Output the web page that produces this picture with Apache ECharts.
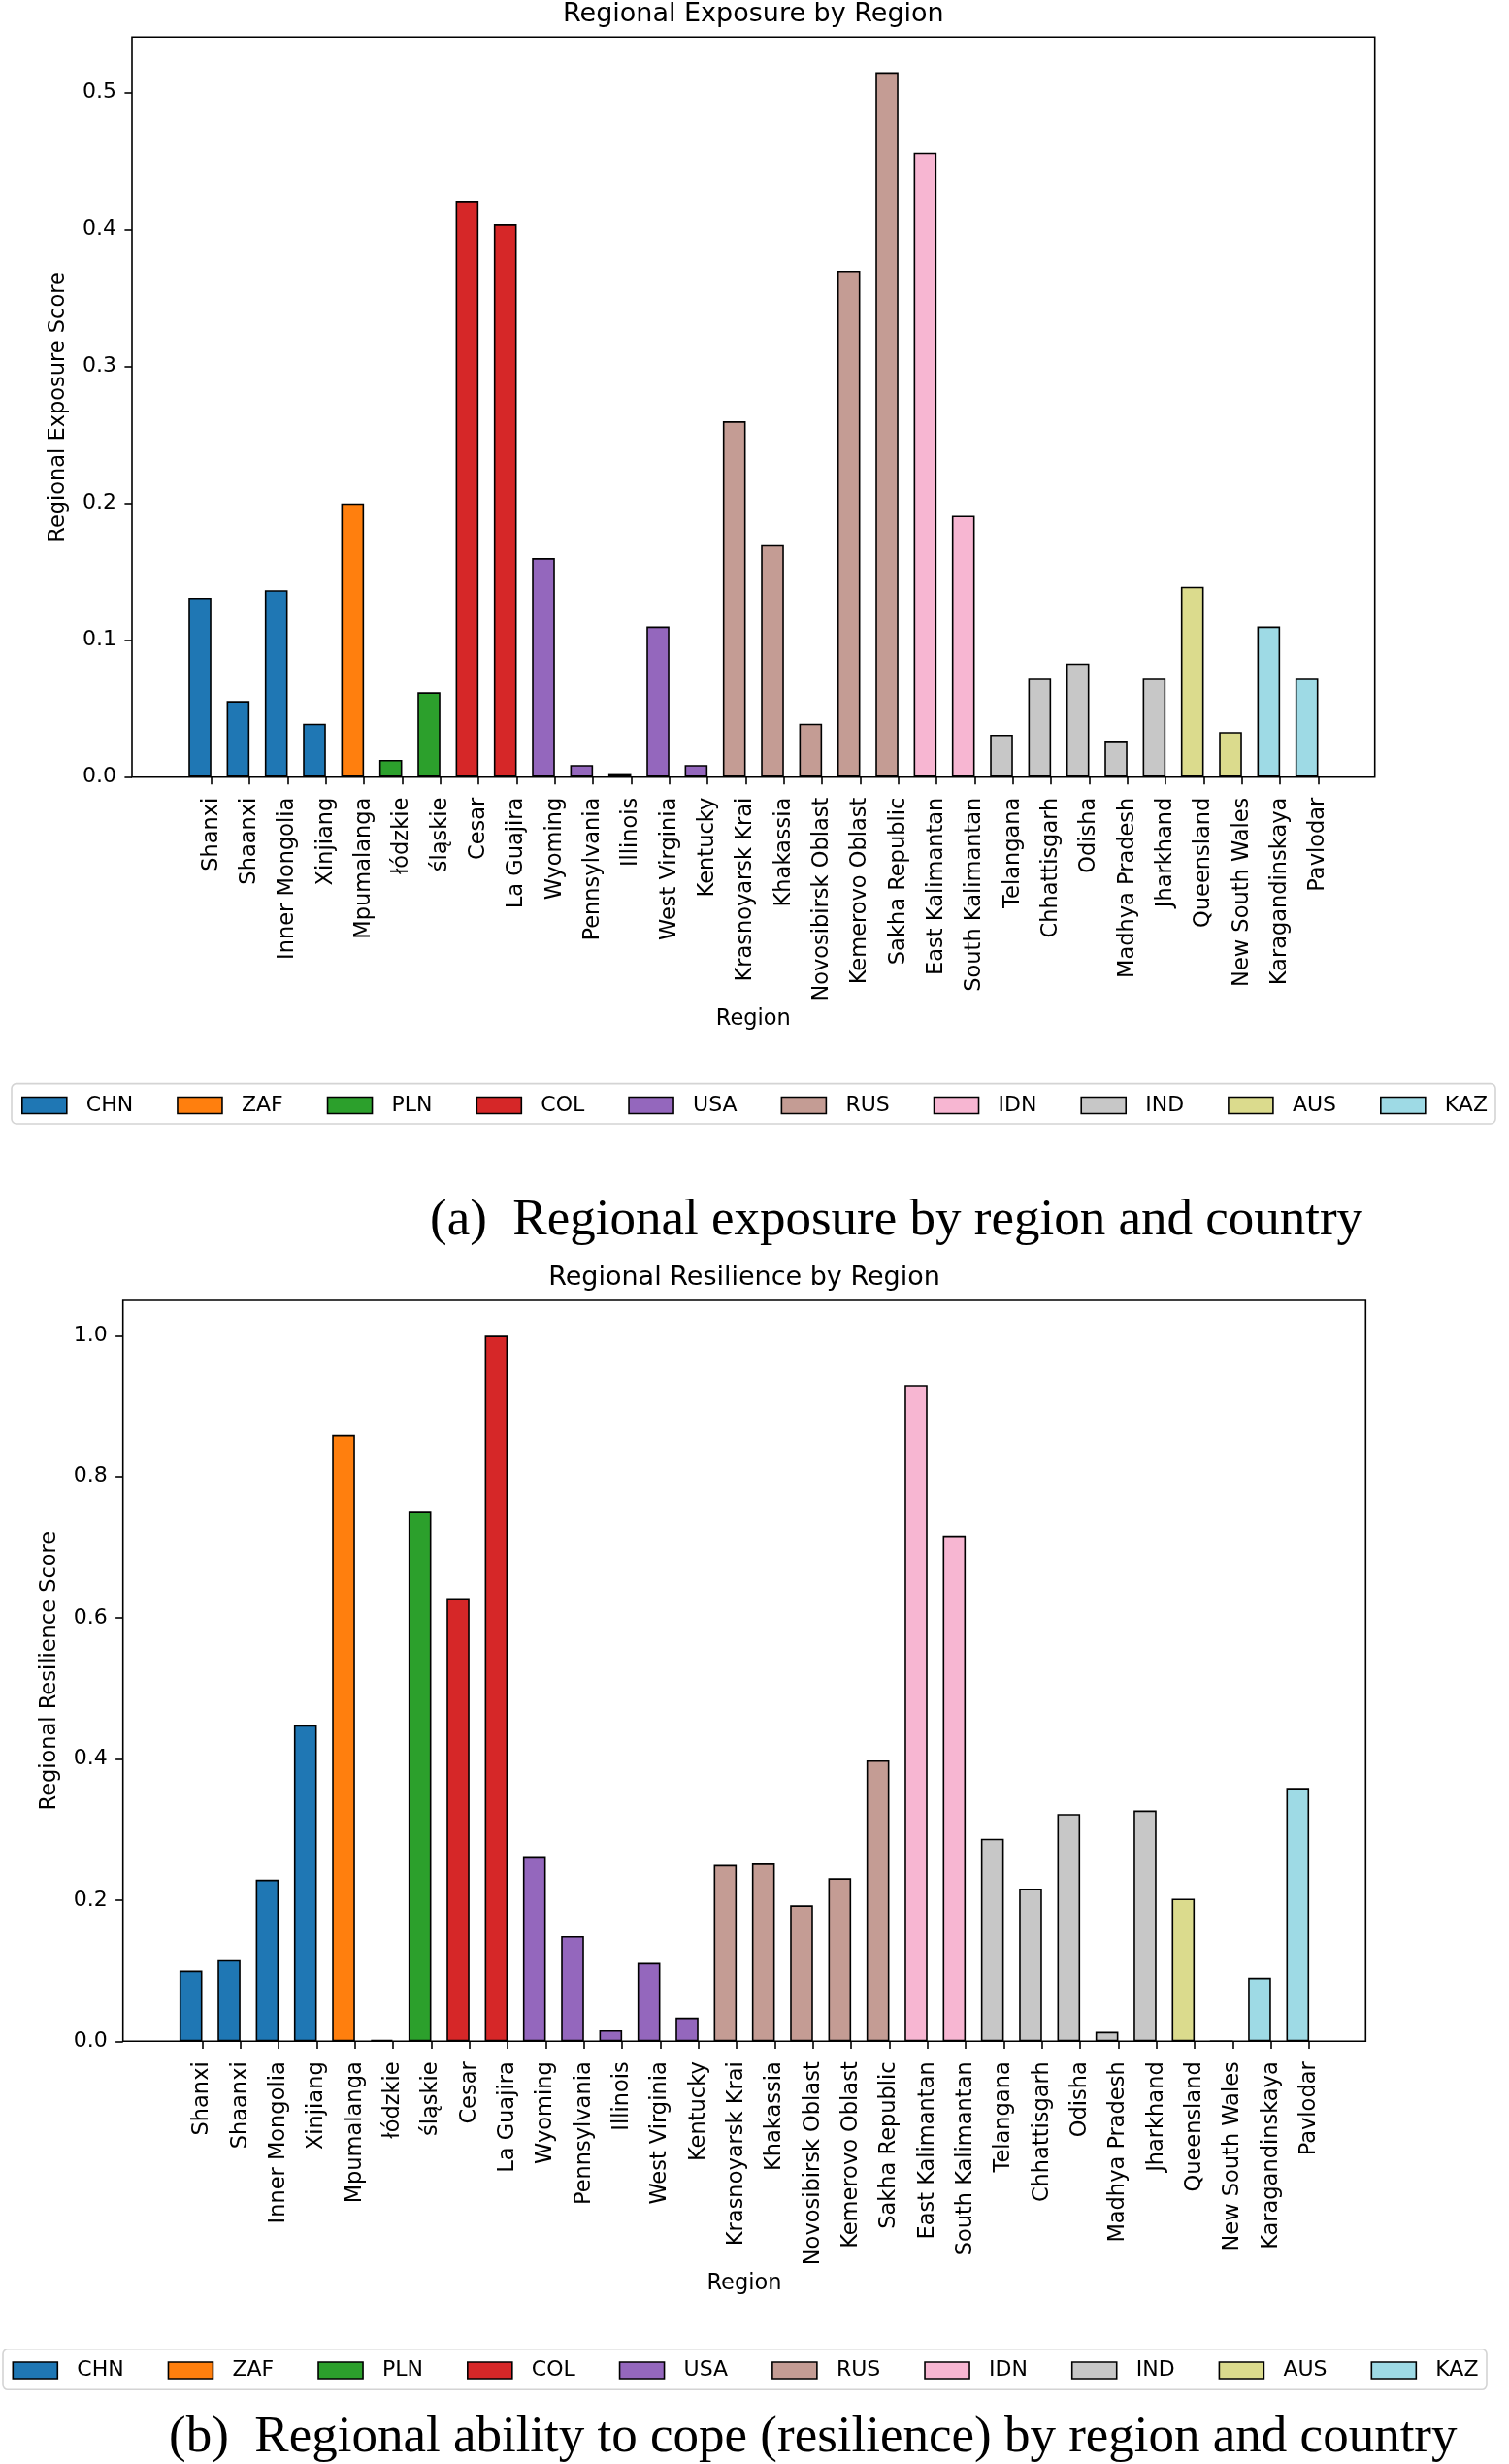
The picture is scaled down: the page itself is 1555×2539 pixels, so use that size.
<!DOCTYPE html>
<html>
<head>
<meta charset="utf-8">
<script src="https://cdn.jsdelivr.net/npm/echarts@6/dist/echarts.min.js"></script>
<style>
html,body{margin:0;padding:0;background:#ffffff;}
#c{width:1555px;height:2539px;}
</style>
</head>
<body>
<div id="c"></div>
<script>
// ---------------- data ----------------
const regions = ['Shanxi','Shaanxi','Inner Mongolia','Xinjiang','Mpumalanga','łódzkie','śląskie','Cesar','La Guajira','Wyoming','Pennsylvania','Illinois','West Virginia','Kentucky','Krasnoyarsk Krai','Khakassia','Novosibirsk Oblast','Kemerovo Oblast','Sakha Republic','East Kalimantan','South Kalimantan','Telangana','Chhattisgarh','Odisha','Madhya Pradesh','Jharkhand','Queensland','New South Wales','Karagandinskaya','Pavlodar'];
const regionCountry = ['CHN','CHN','CHN','CHN','ZAF','PLN','PLN','COL','COL','USA','USA','USA','USA','USA','RUS','RUS','RUS','RUS','RUS','IDN','IDN','IND','IND','IND','IND','IND','AUS','AUS','KAZ','KAZ'];
const countries = ['CHN','ZAF','PLN','COL','USA','RUS','IDN','IND','AUS','KAZ'];
const countryColors = ['#1f77b4','#ff7f0e','#2ca02c','#d62728','#9467bd','#c49c94','#f7b6d2','#c7c7c7','#dbdb8d','#9edae5'];
const exposure = [0.131,0.0556,0.1365,0.039,0.200,0.0126,0.062,0.421,0.404,0.160,0.0089,0.0022,0.110,0.0089,0.260,0.1695,0.039,0.370,0.515,0.456,0.191,0.031,0.072,0.083,0.026,0.072,0.139,0.033,0.110,0.072];
const resilience = [0.100,0.115,0.229,0.448,0.859,0.002,0.751,0.627,1.000,0.261,0.149,0.0157,0.111,0.0336,0.250,0.252,0.1925,0.231,0.398,0.930,0.716,0.287,0.216,0.322,0.0134,0.327,0.202,0.0,0.090,0.359];
const exposureTicks = [0,0.1,0.2,0.3,0.4,0.5];
const resilienceTicks = [0,0.2,0.4,0.6,0.8,1.0];
const exposureMax = 0.5408;
const resilienceMax = 1.05;
const xMin = -2.08, xMax = 30.48;
const barUnits = 0.6;

// ---------------- layout ----------------
const FONT = 'DejaVu Sans';
const panels = [
  {left:136, top:38.2, width:1280.7, height:762.5,
   title:'Regional Exposure by Region', yName:'Regional Exposure Score',
   values:exposure, ticks:exposureTicks, max:exposureMax,
   legendX:22, legendY:1128, box:[12,1116.6,1529,41.4],
   caption:'(a)  Regional exposure by region and country', capX:443, capY:1257.6},
  {left:126.7, top:1340, width:1280.6, height:763.3,
   title:'Regional Resilience by Region', yName:'Regional Resilience Score',
   values:resilience, ticks:resilienceTicks, max:resilienceMax,
   legendX:12.5, legendY:2431.5, box:[3,2420.7,1529,41.6],
   caption:'(b)  Regional ability to cope (resilience) by region and country', capX:174, capY:2511.7}
];

const tickIdx = regions.map((_, i) => i);
const grids = [], xAxes = [], yAxes = [], series = [], legends = [], graphics = [];

panels.forEach((p, pi) => {
  grids.push({left:p.left, top:p.top, width:p.width, height:p.height, containLabel:false,
    show:true, borderColor:'#000', borderWidth:1.6, backgroundColor:'transparent'});
  xAxes.push({type:'value', gridIndex:pi, min:xMin, max:xMax, position:'bottom',
    axisLine:{show:false, onZero:false}, splitLine:{show:false},
    axisTick:{show:true, customValues:tickIdx, length:7.6, lineStyle:{color:'#000', width:1.6}},
    axisLabel:{show:true, customValues:tickIdx, rotate:90, margin:21,
      formatter:(v) => regions[Math.round(v)] || '',
      fontFamily:FONT, fontSize:22.5, color:'#000'},
    name:'Region', nameLocation:'middle', nameGap:238,
    nameTextStyle:{fontFamily:FONT, fontSize:22.5, color:'#000'}});
  yAxes.push({type:'value', gridIndex:pi, min:0, max:p.max, position:'left',
    axisLine:{show:false, onZero:false}, splitLine:{show:false},
    axisTick:{show:true, customValues:p.ticks, length:7.6, lineStyle:{color:'#000', width:1.6}},
    axisLabel:{show:true, customValues:p.ticks, margin:16,
      formatter:(v) => v.toFixed(1), fontFamily:FONT, fontSize:22, color:'#000'},
    name:p.yName, nameLocation:'middle', nameGap:64, nameRotate:90,
    nameTextStyle:{fontFamily:FONT, fontSize:22.5, color:'#000'}});

  const unitPx = p.width / (xMax - xMin);
  countries.forEach((c, ci) => {
    const data = [];
    regions.forEach((r, i) => {
      if (regionCountry[i] === c) data.push([i - barUnits / 2, p.values[i]]);
    });
    series.push({type:'bar', name:c, xAxisIndex:pi, yAxisIndex:pi,
      barWidth: barUnits * unitPx, barGap:'-100%', data:data,
      itemStyle:{color:countryColors[ci], borderColor:'#000', borderWidth:1.6},
      emphasis:{disabled:true}, animation:false});
  });

  legends.push({data:countries, left:p.legendX, top:p.legendY, orient:'horizontal',
    padding:0, itemWidth:46, itemHeight:17, itemGap:45, icon:'rect',
    selectedMode:false,
    itemStyle:{borderColor:'#000', borderWidth:1.6},
    textStyle:{fontFamily:FONT, fontSize:22, color:'#000', padding:[0,0,0,15], lineHeight:17}});

  graphics.push({type:'rect', z:0,
    shape:{x:p.box[0], y:p.box[1], width:p.box[2], height:p.box[3], r:5},
    style:{fill:'#fff', stroke:'#d4d4d4', lineWidth:1.6}});
  graphics.push({type:'text', z:10, x:p.left + p.width / 2, y:p.top - 23,
    style:{text:p.title, fontFamily:FONT, fontSize:27, fill:'#000',
      textAlign:'center', textVerticalAlign:'middle'}});
  graphics.push({type:'text', z:10, x:p.capX, y:p.capY,
    style:{text:p.caption, fontFamily:'Liberation Serif', fontSize:53, fill:'#000',
      textAlign:'left', textVerticalAlign:'middle'}});
});

const chart = echarts.init(document.getElementById('c'), null, {renderer:'canvas'});
chart.setOption({
  animation:false,
  backgroundColor:'#ffffff',
  grid:grids, xAxis:xAxes, yAxis:yAxes, series:series, legend:legends,
  graphic:graphics
});
</script>
</body>
</html>
